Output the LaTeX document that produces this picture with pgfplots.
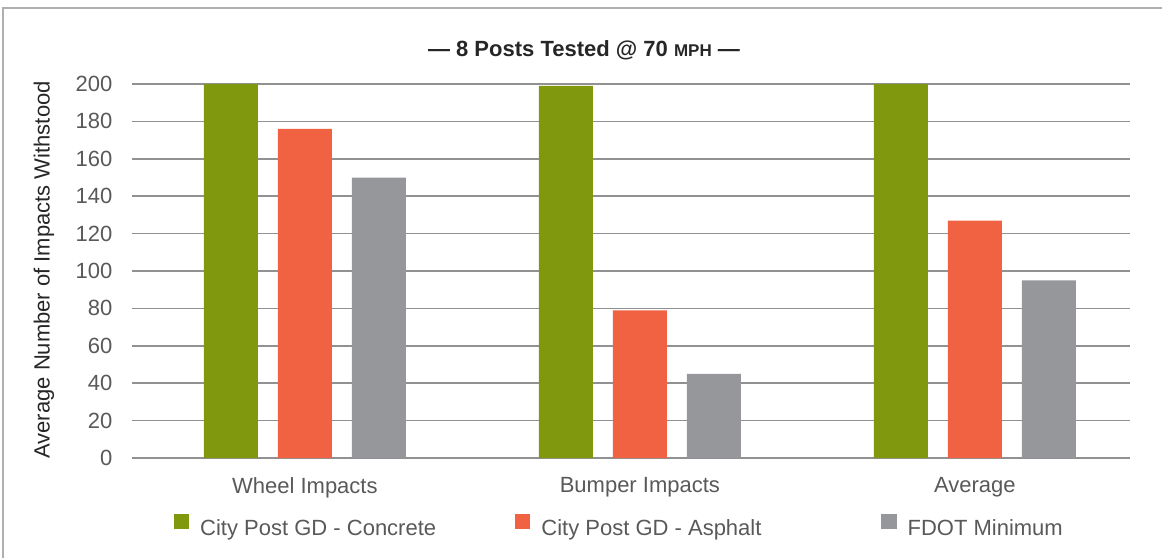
\documentclass[border=0pt]{standalone}
\usepackage{fontspec}
\setmainfont{Liberation Sans}
\usepackage{pgfplots}
\pgfplotsset{compat=1.18}
\definecolor{cgreen}{RGB}{128,152,13}
\definecolor{corange}{RGB}{240,98,65}
\definecolor{cgrey}{RGB}{150,151,155}
\definecolor{gridgray}{RGB}{145,145,145}
\definecolor{tickgray}{RGB}{89,89,89}
\definecolor{titlecol}{RGB}{38,38,38}
\definecolor{framegray}{RGB}{175,175,175}
\begin{document}
\begin{tikzpicture}
\begin{axis}[
  scale only axis, width=499pt, height=187pt,
  ymin=0, ymax=200, xmin=-0.516, xmax=2.463,
  ytick={0,20,...,200},
  xtick={0,1,2}, xticklabels={Wheel Impacts, Bumper Impacts, Average},
  axis line style={draw=none},
  major tick length=0pt,
  ymajorgrids, grid style={color=gridgray, line width=0.75pt},
  /pgf/number format/assume math mode=true,
  tick label style={font=\fontsize{11}{13}\selectfont, text=tickgray},
  yticklabel style={xshift=-6.3pt},
  xticklabel style={yshift=-6pt},
  ylabel={Average Number of Impacts Withstood},
  ylabel style={at={(axis description cs:-0.0882,0.503)}, anchor=center, font=\fontsize{11}{13}\selectfont, text=titlecol},
  ybar, bar width=0.161,
  legend columns=3,
  legend style={draw=none, fill=none, inner sep=0pt, outer sep=0pt,
    at={(0.0421,-0.1818)}, anchor=west, column sep=5.5pt,
    font=\fontsize{11}{13}\selectfont, text=tickgray,
    nodes={inner sep=0pt}},
  legend image code/.code={\fill[#1] (0pt,0pt) rectangle (7.6pt,7.6pt);},
]
\addplot[fill=cgreen, draw=none, bar shift=-0.221] coordinates {(0,200) (1,199) (2,200)};
\addlegendentry{\makebox[152pt][l]{City Post GD - Concrete}}
\addplot[fill=corange, draw=none, bar shift=0] coordinates {(0,176) (1,79) (2,127)};
\addlegendentry{\makebox[164.5pt][l]{City Post GD - Asphalt}}
\addplot[fill=cgrey, draw=none, bar shift=0.221] coordinates {(0,150) (1,45) (2,95)};
\addlegendentry{FDOT Minimum}
\end{axis}
\node[font=\bfseries\fontsize{11}{13}\selectfont, text=titlecol] at (226pt,204pt) {— 8 Posts Tested @ 70 {\fontsize{8.5}{10}\selectfont MPH} —};
\draw[framegray, line width=1pt] (-64.5pt,-50pt) -- (-64.5pt,225pt) -- (515pt,225pt);
\pgfresetboundingbox
\path[use as bounding box] (-66pt,-50pt) rectangle (515pt,229pt);
\end{tikzpicture}
\end{document}
